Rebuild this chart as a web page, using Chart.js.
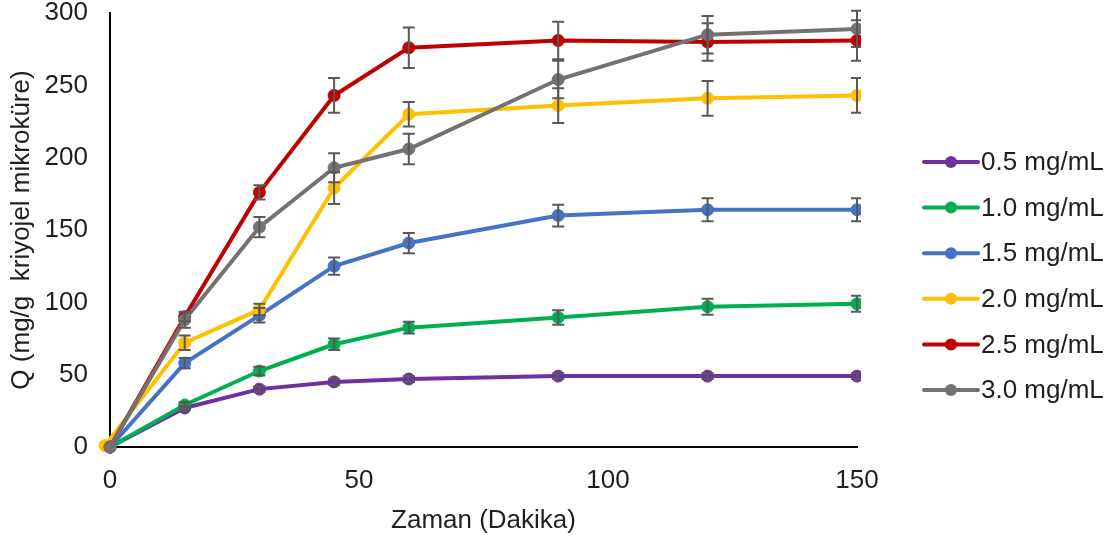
<!DOCTYPE html>
<html><head><meta charset="utf-8">
<script src="https://cdn.jsdelivr.net/npm/chart.js@4.4.0/dist/chart.umd.min.js"></script>
<style>html,body{margin:0;padding:0;background:#fff}#wrap{width:1118px;height:540px}</style>
</head><body><div id="wrap"><canvas id="c" width="1118" height="540"></canvas></div>
<script>
// ---- data ----
const times    = [0, 15, 30, 45, 60, 90, 120, 150];
const times20  = [-1, 15, 30, 45, 60, 90, 120, 150];
const seriesLabels = ['0.5 mg/mL', '1.0 mg/mL', '1.5 mg/mL', '2.0 mg/mL', '2.5 mg/mL', '3.0 mg/mL'];
const q05 = [0, 27, 40, 45, 47, 49, 49, 49];
const q10 = [0, 29, 52.5, 71, 82.5, 89.5, 97, 99];
const q15 = [0, 58, 91, 125, 141, 160, 164, 164];
const q20 = [1, 72, 95, 179, 230, 236, 241, 243];
const q25 = [0, 90, 176, 243, 276, 281, 280, 281];
const q30 = [0, 88, 152, 193, 206, 254, 285, 289];
const e05 = [0, 1.5, 2, 2, 2, 2, 2, 2];
const e10 = [0, 2, 3, 4, 4, 5, 5.5, 5.5];
const e15 = [0, 3.5, 5, 6, 7, 7.5, 8, 8];
const e20 = [0, 5, 4, 11, 8.5, 12, 12, 12];
const e25 = [0, 3, 5, 12, 14, 13, 13, 14];
const e30 = [0, 5.5, 7, 10, 10.5, 13, 13, 12.5];
const xTicks = [0, 50, 100, 150];
const yTicks = [0, 50, 100, 150, 200, 250, 300];
const xTitle = 'Zaman (Dakika)';
const yTitle = 'Q (mg/g  kriyojel mikroküre)';

// ---- styling ----
const colors = ['#7030A0', '#00B050', '#4472C4', '#FFC000', '#C00000', '#767171'];
const FONT = "'Liberation Sans', Arial, sans-serif";
const TXT = '#1f1f1f';
const FS = 26;

const xs = [times, times, times, times20, times, times];
const ys = [q05, q10, q15, q20, q25, q30];
const es = [e05, e10, e15, e20, e25, e30];

const datasets = seriesLabels.map((lab, i) => ({
  label: lab,
  data: xs[i].map((t, j) => ({x: t, y: ys[i][j]})),
  errs: es[i],
  borderColor: colors[i],
  backgroundColor: colors[i],
  pointBackgroundColor: colors[i],
  pointBorderColor: colors[i],
  borderWidth: 4,
  pointRadius: 6,
  pointBorderWidth: 1,
  tension: 0,
  order: seriesLabels.length - i,
  clip: {left: 12, top: 12, right: 4, bottom: 12}
}));

const errorBars = {
  id: 'errorBars',
  afterDatasetsDraw(chart) {
    const ctx = chart.ctx, y = chart.scales.y, ca = chart.chartArea;
    ctx.save();
    ctx.beginPath();
    ctx.rect(0, 0, ca.right + 4, chart.height);
    ctx.clip();
    ctx.strokeStyle = '#595959';
    ctx.lineWidth = 2;
    chart.data.datasets.forEach((ds, di) => {
      const meta = chart.getDatasetMeta(di);
      meta.data.forEach((pt, j) => {
        const e = ds.errs[j];
        if (!e) return;
        const v = ds.data[j].y;
        const px = pt.x;
        const yt = y.getPixelForValue(v + e), yb = y.getPixelForValue(v - e);
        ctx.beginPath();
        ctx.moveTo(px, yt); ctx.lineTo(px, yb);
        ctx.moveTo(px - 6, yt); ctx.lineTo(px + 6, yt);
        ctx.moveTo(px - 6, yb); ctx.lineTo(px + 6, yb);
        ctx.stroke();
      });
    });
    ctx.restore();
  }
};

const legendPlugin = {
  id: 'sideLegend',
  afterDraw(chart) {
    const ctx = chart.ctx;
    ctx.save();
    chart.data.datasets.forEach((ds, i) => {
      const cy = 162 + i * 45.6;
      ctx.strokeStyle = ds.borderColor;
      ctx.lineWidth = 4;
      ctx.lineCap = 'round';
      ctx.beginPath(); ctx.moveTo(924, cy); ctx.lineTo(978, cy); ctx.stroke();
      ctx.fillStyle = ds.borderColor;
      ctx.beginPath(); ctx.arc(951, cy, 6, 0, Math.PI * 2); ctx.fill();
      ctx.fillStyle = TXT;
      ctx.font = FS + 'px ' + FONT;
      ctx.textAlign = 'left';
      ctx.textBaseline = 'middle';
      ctx.fillText(ds.label, 981, cy + 1);
    });
    ctx.restore();
  }
};

new Chart(document.getElementById('c'), {
  type: 'line',
  data: {datasets},
  options: {
    responsive: false,
    animation: false,
    devicePixelRatio: 1,
    layout: {padding: {top: 13, right: 261, left: 0, bottom: 0}},
    plugins: {legend: {display: false}, tooltip: {enabled: false}},
    scales: {
      x: {
        type: 'linear', min: 0, max: 150,
        afterFit(s) { s.height = 93; s.paddingLeft = 0; s.paddingRight = 0; },
        afterBuildTicks(s) { s.ticks = xTicks.map(v => ({value: v})); },
        grid: {display: false, drawTicks: false},
        border: {display: true, color: '#000', width: 2},
        ticks: {color: TXT, font: {family: FONT, size: FS}, padding: 18, maxRotation: 0},
        title: {display: true, text: xTitle, color: TXT, font: {family: FONT, size: FS}, padding: {top: 0, bottom: 4}}
      },
      y: {
        type: 'linear', min: 0, max: 300,
        afterFit(s) { s.width = 110; s.paddingTop = 0; s.paddingBottom = 0; },
        afterBuildTicks(s) { s.ticks = yTicks.map(v => ({value: v})); },
        grid: {display: false, drawTicks: false},
        border: {display: true, color: '#000', width: 2},
        ticks: {color: TXT, font: {family: FONT, size: FS}, padding: 22},
        title: {display: true, text: yTitle, color: TXT, font: {family: FONT, size: FS}, padding: {top: 6, bottom: 0}}
      }
    }
  },
  plugins: [errorBars, legendPlugin]
});
</script>
</body></html>
